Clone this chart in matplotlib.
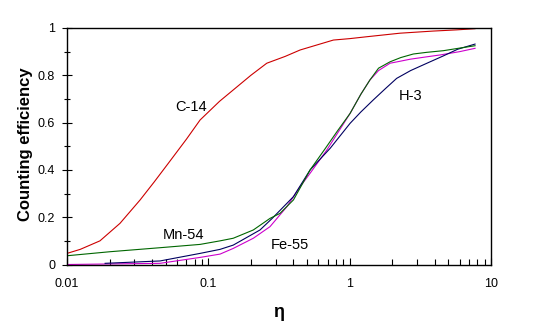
import matplotlib
matplotlib.use("Agg")
import matplotlib.pyplot as plt
from matplotlib.ticker import FixedLocator, NullFormatter, FixedFormatter

# Values (eta on log axis, counting efficiency).
c14_eta = [0.01, 0.0124, 0.0171, 0.0237, 0.0329, 0.0415, 0.0521, 0.07, 0.0874,
           0.12, 0.150, 0.2, 0.259, 0.35, 0.446, 0.6, 0.767, 1.0, 1.32, 2.27,
           3.9, 5.7, 7.7]
c14_eff = [0.047, 0.064, 0.10, 0.174, 0.273, 0.35, 0.428, 0.53, 0.611,
           0.69, 0.738, 0.80, 0.851, 0.88, 0.907, 0.93, 0.949, 0.955, 0.963, 0.978,
           0.987, 0.992, 0.997]

mn54_eta = [0.01, 0.0201, 0.0455, 0.0874, 0.121, 0.150, 0.208, 0.273, 0.321,
            0.400, 0.525, 0.673, 0.82, 1.007, 1.2, 1.39, 1.6, 1.93, 2.3, 2.82,
            3.5, 4.60, 6.0, 7.71]
mn54_eff = [0.037, 0.054, 0.071, 0.085, 0.10, 0.111, 0.146, 0.195, 0.216,
            0.273, 0.40, 0.491, 0.565, 0.639, 0.72, 0.78, 0.83, 0.857, 0.875, 0.89,
            0.897, 0.904, 0.915, 0.925]

h3_eta = [0.0186, 0.0455, 0.0874, 0.121, 0.150, 0.232, 0.283, 0.400, 0.525,
          0.727, 1.007, 1.2, 1.47, 1.8, 2.15, 2.7, 3.52, 4.60, 5.8, 7.71]
h3_eff = [0.005, 0.015, 0.047, 0.064, 0.082, 0.146, 0.195, 0.287, 0.40,
          0.491, 0.597, 0.645, 0.696, 0.745, 0.787, 0.82, 0.851, 0.882, 0.91, 0.932]

fe55_eta = [0.01, 0.0455, 0.0874, 0.121, 0.150, 0.208, 0.273, 0.359, 0.446,
            0.525, 0.689, 1.007, 1.2, 1.39, 1.6, 1.93, 2.3, 2.68, 3.5, 4.37,
            6.0, 7.71]
fe55_eff = [0.0, 0.005, 0.030, 0.044, 0.068, 0.111, 0.16, 0.244, 0.329,
            0.386, 0.484, 0.639, 0.72, 0.78, 0.82, 0.851, 0.86, 0.868, 0.878, 0.886,
            0.90, 0.914]

x_ticks = [0.01, 0.1, 1, 10]
x_tick_labels = ["0.01", "0.1", "1", "10"]
y_ticks = [0, 0.2, 0.4, 0.6, 0.8, 1]
y_tick_labels = ["0", "0.2", "0.4", "0.6", "0.8", "1"]

plt.rcParams["font.family"] = ["Liberation Sans", "DejaVu Sans"]

fig = plt.figure(figsize=(5.34, 3.32), dpi=100)
ax = fig.add_axes([0.1255, 0.2033, 0.794, 0.7124])

ax.plot(c14_eta, c14_eff, color="#cc0000", lw=0.8)
ax.plot(fe55_eta, fe55_eff, color="#cc00cc", lw=0.8)
ax.plot(h3_eta, h3_eff, color="#000060", lw=0.8)
ax.plot(mn54_eta, mn54_eff, color="#006600", lw=0.8)

ax.set_xscale("log")
ax.set_xlim(0.01, 10)
ax.set_ylim(0, 1)

ax.xaxis.set_major_locator(FixedLocator(x_ticks))
ax.xaxis.set_major_formatter(FixedFormatter(x_tick_labels))
minors = [m * 10.0 ** e for e in (-2, -1, 0) for m in range(2, 10)]
ax.xaxis.set_minor_locator(FixedLocator(minors))
ax.xaxis.set_minor_formatter(NullFormatter())
ax.yaxis.set_major_locator(FixedLocator(y_ticks))
ax.yaxis.set_major_formatter(FixedFormatter(y_tick_labels))
ax.yaxis.set_minor_locator(FixedLocator([0.1, 0.3, 0.5, 0.7, 0.9]))

ax.tick_params(which="major", direction="inout", length=7, width=0.8,
               labelsize=9, pad=5)
ax.tick_params(which="minor", direction="inout", length=5, width=0.8)
ax.tick_params(axis="x", which="both", direction="in", length=4)
ax.tick_params(axis="x", which="major", pad=10, length=5)
for s in ax.spines.values():
    s.set_linewidth(1.0)

ax.text(0.075, 0.666, "C-14", fontsize=10.5, ha="center", va="center")
ax.text(2.68, 0.714, "H-3", fontsize=10.5, ha="center", va="center")
ax.text(0.0666, 0.125, "Mn-54", fontsize=10.5, ha="center", va="center")
ax.text(0.378, 0.082, "Fe-55", fontsize=10.5, ha="center", va="center")

ax.set_ylabel("Counting efficiency", fontsize=12, fontweight="bold")
ax.yaxis.set_label_coords(-0.080, 0.51)
ax.set_xlabel("η", fontsize=13, fontweight="bold", labelpad=10)

fig.savefig("out.png", dpi=100)
